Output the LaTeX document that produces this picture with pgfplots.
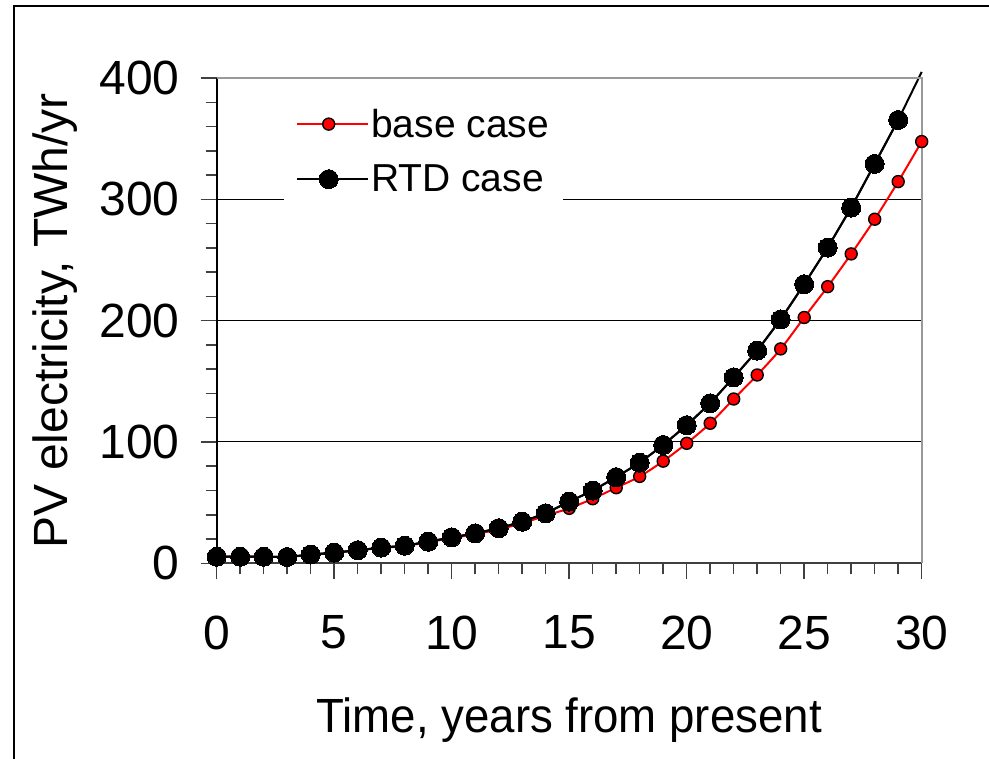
\documentclass[border=0pt]{standalone}
\usepackage{fontspec}
\setmainfont{Liberation Sans}
\usepackage{pgfplots}
\pgfplotsset{compat=1.18}
\usepackage{pgfplotstable}

% PV electricity (TWh/yr) vs time
\pgfplotstableread{
x base rtd
0 5.4 5.4
1 5.4 5.4
2 5.4 5.4
3 5.2 5.2
4 7.0 7.2
5 8.6 8.8
6 10.6 10.8
7 12.6 12.9
8 14.2 14.5
9 17.4 17.8
10 20.8 21.4
11 24.0 24.7
12 28.0 28.9
13 33.0 34.3
14 39.3 41.2
15 45.3 50.8
16 53.2 59.9
17 62.3 71.0
18 71.6 82.9
19 84.2 97.5
20 98.9 113.8
21 115.4 131.9
22 135.4 153.3
23 155.2 175.3
24 176.7 201.0
25 202.6 230.0
26 228.0 260.2
27 255.0 293.2
28 283.6 329.2
29 314.6 365.4
30 347.6 405.0
}\pvdata

\begin{document}
\begin{tikzpicture}
\useasboundingbox (0,0) rectangle (989pt,759pt);
\draw[line width=1.5pt] (14pt,0pt) -- (14pt,753pt) -- (989pt,753pt);
\begin{axis}[
  at={(216.7pt,195.7pt)}, anchor=south west,
  scale only axis, width=705pt, height=485.3pt,
  xmin=0, xmax=30, ymin=0, ymax=400,
  xtick={0,5,...,30}, ytick={0,100,...,400},
  minor x tick num=4, minor y tick num=4,
  axis x line*=bottom, axis y line*=left,
  tick align=outside,
  major tick length=16pt, minor tick length=11pt,
  tick style={black!75, line width=1.5pt},
  x axis line style={line width=2pt, black!75},
  y axis line style={line width=2pt, black},
  ymajorgrids, major grid style={black, line width=1pt},
  clip=false,
  /pgf/number format/assume math mode=true,
  ticklabel style={font=\fontsize{48}{48}\selectfont, inner sep=0pt},
  yticklabel style={anchor=east, xshift=-21pt},
  xticklabel style={anchor=north, yshift=-36pt},
  xlabel={\scalebox{0.95}[1]{Time, years from present}},
  ylabel={PV electricity, TWh/yr},
  label style={font=\fontsize{48}{48}\selectfont},
  x label style={at={([yshift=-157pt]rel axis cs:0.5,0)}, anchor=center},
  y label style={at={([xshift=-162pt]rel axis cs:0,0.5)}, anchor=center, rotate=0},
  legend style={at={(rel axis cs:0.2935,0.849)}, anchor=center, fill=white,
    draw=none, font=\fontsize{39}{39}\selectfont, inner xsep=12pt, inner ysep=14pt,
    row sep=22pt, cells={anchor=west}},
  legend image code/.code={
    \draw[mark repeat=2,mark phase=2] plot coordinates {(0pt,0pt) (31.5pt,0pt) (63pt,0pt)};
    \path (63pt,0pt) -- (71pt,0pt);
  },
]
\addplot[red, line width=2pt, smooth, mark=*, mark size=6pt,
  mark options={fill=red, draw=black, line width=1.4pt}]
  table[x=x, y=base] {\pvdata};
\addlegendentry{base case}
\addplot[black, line width=2pt, forget plot] table[x=x, y=rtd] {\pvdata};
\addplot[black, line width=2pt, mark=*, mark size=9.5pt,
  mark options={fill=black, draw=black, line width=0pt},
  skip coords between index={30}{31}]
  table[x=x, y=rtd] {\pvdata};
\addlegendentry{RTD case}
\draw[black!40, line width=2pt] (rel axis cs:0,1) -- (rel axis cs:1,1) -- (rel axis cs:1,0);
\end{axis}
\end{tikzpicture}
\end{document}
